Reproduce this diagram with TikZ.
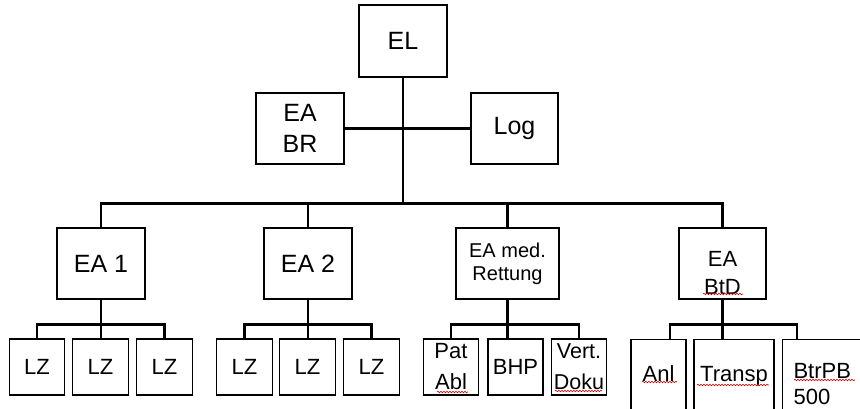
\documentclass[tikz,border=0pt]{standalone}
\usepackage{fontspec}
\setmainfont{Liberation Sans}
\usetikzlibrary{decorations.pathmorphing}

\tikzset{
  box/.style={draw, line width=1.1pt, inner sep=0pt, align=center, minimum width=88pt, minimum height=71pt},
  small/.style={box, minimum width=55.5pt, minimum height=56pt},
  open/.style={box, anchor=north, minimum height=91pt, text height=16pt, text depth=23pt},
  bigtext/.style={font=\fontsize{25}{31}\selectfont},
  midtext/.style={font=\fontsize{22}{26}\selectfont},
  link/.style={line width=2.8pt},
  spell/.style={red!85!black, line width=0.6pt, decorate, decoration={snake, amplitude=0.8pt, segment length=3pt}}
}

\begin{document}
\begin{tikzpicture}[x=1pt,y=-1pt]
        \useasboundingbox (0,0) rectangle (860,409);
        \clip (0,0) rectangle (860,409);
        \node[box,bigtext,minimum height=72pt] (el) at (403,41) {EL};
        \node[box,bigtext] (eabr) at (300,128.5) {EA\\BR};
        \node[box,bigtext,minimum width=87pt] (log) at (514.5,128.5) {Log};
        \node[box,bigtext] (ea1) at (101,263.5) {EA 1};
        \node[box,bigtext] (ea2) at (308,263.5) {EA 2};
        \node[box,minimum width=103pt,font=\fontsize{20}{23}\selectfont] (eamed) at (507.5,263.5) {EA med.\\Rettung};
        \node[box,minimum width=87pt,font=\fontsize{22}{28}\selectfont,text width=50pt,text height=33pt,text depth=28pt] (eabtd) at (722.5,263.5) {EA\\BtD};
        \foreach \n/\x in {lza/37,lzb/100.5,lzc/164.5,lzd/244.5,lze/307.5,lzf/371.5}
          \node[small,midtext] (\n) at (\x,367) {LZ};
        \node[small,font=\fontsize{22}{31}\selectfont] (pat) at (451,367) {Pat\\Abl};
        \node[small,midtext,minimum width=55pt] (bhp) at (515.5,367) {BHP};
        \node[small,font=\fontsize{21.5}{31}\selectfont] (vert) at (579,367) {Vert.\\Doku};
        \node[open,midtext,minimum width=55pt] (anl) at (658.5,339) {Anl};
        \node[open,midtext,minimum width=80pt] (transp) at (734,339) {Transp};
        \node[open,midtext,anchor=north west,text width=70pt,align=left,inner xsep=11pt,text depth=29pt] (btr) at (782,339) {BtrPB\\500};

        \draw[link] (el.south) -- ++(0,126) coordinate (top);
        \draw[link] (eabr) -- (log);
        \draw[link] (ea1.north) |- (top) -| (eabtd.north);
        \draw[link] (ea2.north) -- (ea2.north |- top);
        \draw[link] (eamed.north) -- (eamed.north |- top);
        \foreach \p/\a/\b/\c in {ea1/lza/lzb/lzc,ea2/lzd/lze/lzf,eamed/pat/bhp/vert}{
          \draw[link] (\p.south) -- ++(0,25) coordinate (j) -- (\b.north -| \p.south);
          \draw[link] (\a.north) |- (j) -| (\c.north);
        }
        \draw[link] (eabtd.south) -- ++(0,25) coordinate (jd) -- (transp.north -| jd);
        \draw[link] ([xshift=11.5pt]anl.north) |- (jd) -| ([xshift=15pt]btr.north west);

        \draw[spell] (703,294) -- (743,294);
        \draw[spell] (437,392) -- (468,392);
        \draw[spell] (555,391) -- (602,391);
        \draw[spell] (642,382) -- (677,382);
        \draw[spell] (697,385) -- (769,385);
        \draw[spell] (794,380) -- (855,380);
      \end{tikzpicture}
\end{document}
